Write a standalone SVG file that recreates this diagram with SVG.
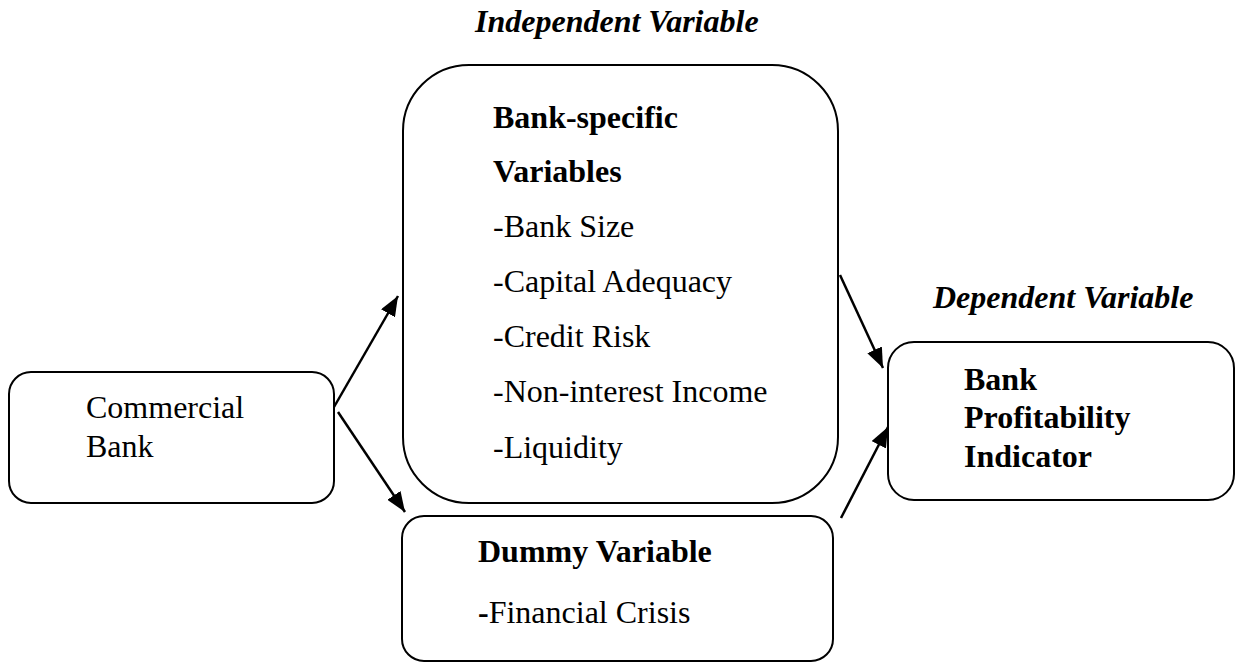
<svg xmlns="http://www.w3.org/2000/svg" width="1242" height="663" viewBox="0 0 1242 663">
  <style>
    .box { fill: #ffffff; stroke: #000000; stroke-width: 2; }
    .t { font-family: "Liberation Serif", "Times New Roman", serif; font-size: 32px; fill: #000000; }
    .b { font-weight: bold; }
    .bi { font-weight: bold; font-style: italic; }
    .conn { stroke: #000000; stroke-width: 2.5; fill: none; marker-end: url(#arrow); }
  </style>
  <defs>
    <marker id="arrow" viewBox="0 0 10 10" refX="10" refY="5" markerWidth="8" markerHeight="8" markerUnits="userSpaceOnUse" orient="auto">
      <path d="M0,0 L10,5 L0,10 Z" fill="#000000"/>
    </marker>
    <marker id="arrowhead" viewBox="0 0 20 16" refX="20" refY="8" markerWidth="20" markerHeight="16" markerUnits="userSpaceOnUse" orient="auto">
      <path d="M0,0 L20,8 L0,16 Z" fill="#000000"/>
    </marker>
  </defs>

  <!-- headings -->
  <text class="t bi" x="475" y="32">Independent Variable</text>
  <text class="t bi" x="933" y="308">Dependent Variable</text>

  <!-- connectors -->
  <g id="connectors">
    <line class="conn" x1="334" y1="407" x2="398" y2="296" style="marker-end:url(#arrowhead)"/>
    <line class="conn" x1="338" y1="412" x2="405" y2="512" style="marker-end:url(#arrowhead)"/>
    <line class="conn" x1="840" y1="275" x2="883" y2="368" style="marker-end:url(#arrowhead)"/>
    <line class="conn" x1="841" y1="518" x2="888" y2="427" style="marker-end:url(#arrowhead)"/>
  </g>

  <g id="commercial-bank">
    <rect class="box" x="9" y="372" width="325" height="131" rx="22" ry="22"/>
    <text class="t" x="86" y="418">Commercial</text>
    <text class="t" x="86" y="457">Bank</text>
  </g>

  <g id="bank-specific">
    <rect class="box" x="403" y="65" width="435" height="438" rx="66" ry="66"/>
    <text class="t b" x="493" y="128">Bank-specific</text>
    <text class="t b" x="493" y="182">Variables</text>
    <text class="t" x="493" y="237">-Bank Size</text>
    <text class="t" x="493" y="292">-Capital Adequacy</text>
    <text class="t" x="493" y="347">-Credit Risk</text>
    <text class="t" x="493" y="402">-Non-interest Income</text>
    <text class="t" x="493" y="458">-Liquidity</text>
  </g>

  <g id="dummy-variable">
    <rect class="box" x="402" y="516" width="431" height="145" rx="22" ry="22"/>
    <text class="t b" x="478" y="562">Dummy Variable</text>
    <text class="t" x="478" y="623"><tspan class="b">-</tspan>Financial Crisis</text>
  </g>

  <g id="profitability">
    <rect class="box" x="888" y="342" width="346" height="158" rx="26" ry="26"/>
    <text class="t b" x="964" y="390">Bank</text>
    <text class="t b" x="964" y="428">Profitability</text>
    <text class="t b" x="964" y="467">Indicator</text>
  </g>
</svg>
